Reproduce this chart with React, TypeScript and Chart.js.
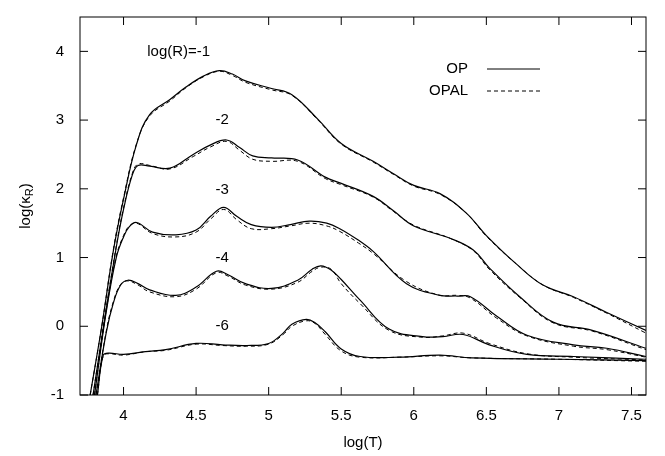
import Chart from 'chart.js/auto';
import { useEffect, useRef } from 'react';

const xTicks = [4, 4.5, 5, 5.5, 6, 6.5, 7, 7.5];
const yTicks = [-1, 0, 1, 2, 3, 4];

const opR1 = [[3.77,-1],[3.85,0],[3.93,1.1],[4.0,1.85],[4.09,2.65],[4.18,3.08],[4.32,3.3],[4.43,3.48],[4.55,3.64],[4.66,3.72],[4.75,3.67],[4.84,3.57],[5.02,3.46],[5.16,3.37],[5.34,3.01],[5.5,2.66],[5.72,2.4],[5.86,2.22],[6.0,2.05],[6.18,1.93],[6.36,1.65],[6.5,1.32],[6.71,0.9],[6.89,0.6],[7.1,0.43],[7.33,0.2],[7.6,-0.06]];
const opalR1 = [[3.77,-1],[3.85,0],[3.93,1.12],[4.0,1.87],[4.09,2.66],[4.18,3.06],[4.32,3.28],[4.43,3.47],[4.55,3.63],[4.66,3.71],[4.75,3.65],[4.84,3.55],[5.02,3.44],[5.16,3.36],[5.34,3.0],[5.5,2.65],[5.72,2.39],[5.86,2.21],[6.0,2.04],[6.18,1.92],[6.36,1.65],[6.5,1.31],[6.71,0.9],[6.89,0.6],[7.1,0.42],[7.33,0.19],[7.6,-0.1]];

const opR2 = [[3.79,-1],[3.87,0.1],[3.95,1.15],[4.0,1.7],[4.06,2.2],[4.1,2.34],[4.18,2.33],[4.32,2.3],[4.48,2.5],[4.6,2.64],[4.71,2.71],[4.8,2.6],[4.89,2.48],[5.02,2.45],[5.2,2.42],[5.39,2.17],[5.5,2.08],[5.72,1.89],[5.86,1.68],[6.0,1.46],[6.25,1.28],[6.41,1.11],[6.52,0.85],[6.73,0.43],[6.96,0.06],[7.23,-0.06],[7.6,-0.32]];
const opalR2 = [[3.79,-1],[3.87,0.12],[3.95,1.17],[4.0,1.72],[4.06,2.22],[4.1,2.36],[4.18,2.34],[4.32,2.29],[4.48,2.47],[4.6,2.61],[4.71,2.69],[4.8,2.56],[4.89,2.43],[5.02,2.4],[5.2,2.4],[5.39,2.15],[5.5,2.06],[5.72,1.88],[5.86,1.67],[6.0,1.47],[6.25,1.28],[6.41,1.1],[6.52,0.83],[6.73,0.42],[6.96,0.05],[7.23,-0.07],[7.6,-0.34]];

const opR3 = [[3.8,-1],[3.88,0.2],[3.95,1.0],[4.0,1.3],[4.04,1.45],[4.09,1.51],[4.2,1.37],[4.36,1.33],[4.5,1.4],[4.6,1.6],[4.69,1.73],[4.78,1.6],[4.88,1.48],[5.02,1.44],[5.15,1.48],[5.28,1.53],[5.4,1.5],[5.49,1.42],[5.62,1.25],[5.72,1.09],[5.95,0.62],[6.18,0.45],[6.3,0.44],[6.39,0.43],[6.57,0.15],[6.78,-0.13],[7.1,-0.27],[7.33,-0.32],[7.6,-0.44]];
const opalR3 = [[3.8,-1],[3.88,0.22],[3.95,1.02],[4.0,1.32],[4.04,1.46],[4.09,1.5],[4.2,1.35],[4.36,1.3],[4.5,1.37],[4.6,1.56],[4.69,1.7],[4.78,1.55],[4.88,1.42],[5.02,1.42],[5.15,1.46],[5.28,1.5],[5.4,1.46],[5.49,1.38],[5.62,1.21],[5.72,1.06],[5.95,0.65],[6.18,0.45],[6.3,0.45],[6.39,0.41],[6.57,0.12],[6.78,-0.14],[7.1,-0.29],[7.33,-0.34],[7.6,-0.45]];

const opR4 = [[3.81,-1],[3.88,-0.1],[3.93,0.34],[3.98,0.6],[4.03,0.67],[4.1,0.62],[4.18,0.53],[4.36,0.45],[4.5,0.57],[4.64,0.8],[4.72,0.75],[4.84,0.62],[5.02,0.55],[5.2,0.67],[5.3,0.83],[5.36,0.88],[5.43,0.82],[5.5,0.68],[5.63,0.38],[5.83,-0.04],[6.06,-0.15],[6.2,-0.15],[6.34,-0.12],[6.52,-0.27],[6.78,-0.41],[7.1,-0.44],[7.6,-0.48]];
const opalR4 = [[3.81,-1],[3.88,-0.08],[3.93,0.36],[3.98,0.61],[4.03,0.66],[4.1,0.6],[4.18,0.5],[4.36,0.43],[4.5,0.54],[4.64,0.78],[4.72,0.73],[4.84,0.6],[5.02,0.54],[5.2,0.64],[5.3,0.8],[5.36,0.86],[5.43,0.83],[5.5,0.62],[5.63,0.33],[5.83,-0.06],[6.06,-0.16],[6.2,-0.14],[6.34,-0.1],[6.52,-0.25],[6.78,-0.4],[7.1,-0.45],[7.6,-0.49]];

const opR6 = [[3.82,-1],[3.86,-0.42],[3.9,-0.39],[4.0,-0.41],[4.15,-0.37],[4.29,-0.34],[4.5,-0.25],[4.68,-0.27],[4.85,-0.28],[5.0,-0.25],[5.1,-0.1],[5.16,0.03],[5.26,0.1],[5.32,0.05],[5.39,-0.08],[5.5,-0.33],[5.63,-0.44],[5.9,-0.45],[6.18,-0.42],[6.4,-0.46],[7.0,-0.48],[7.6,-0.5]];
const opalR6 = [[3.82,-1],[3.86,-0.43],[3.9,-0.4],[4.0,-0.42],[4.15,-0.37],[4.29,-0.35],[4.5,-0.26],[4.68,-0.28],[4.85,-0.29],[5.0,-0.26],[5.1,-0.12],[5.16,0.0],[5.26,0.08],[5.32,0.04],[5.39,-0.12],[5.5,-0.36],[5.63,-0.45],[5.9,-0.45],[6.18,-0.43],[6.4,-0.46],[7.0,-0.48],[7.6,-0.51]];

const curveLabels = [['log(R)=-1', 4.38, 4.0], ['-2', 4.68, 3.0], ['-3', 4.68, 1.98], ['-4', 4.68, 1.0], ['-6', 4.68, 0.0]];

const FONT = '"Liberation Sans", Arial, sans-serif';

const toPts = (a: number[][]) => a.map(([x, y]) => ({ x, y }));

export default function App() {
  const ref = useRef<HTMLCanvasElement | null>(null);
  useEffect(() => {
    if (!ref.current) return;
    const sets: any[] = [];
    [opR1, opR2, opR3, opR4, opR6].forEach((s) => sets.push({ data: toPts(s), borderColor: '#000', borderWidth: 1.2, pointRadius: 0, tension: 0.4, fill: false }));
    [opalR1, opalR2, opalR3, opalR4, opalR6].forEach((s) => sets.push({ data: toPts(s), borderColor: '#000', borderWidth: 1, borderDash: [4, 3], pointRadius: 0, tension: 0.4, fill: false }));

    const deco = {
      id: 'deco',
      afterDraw(c: any) {
        const ctx = c.ctx; const a = c.chartArea; const xs = c.scales.x; const ys = c.scales.y;
        ctx.save();
        ctx.strokeStyle = '#000'; ctx.lineWidth = 1;
        ctx.strokeRect(a.left, a.top, a.right - a.left, a.bottom - a.top);
        ctx.beginPath();
        xTicks.forEach((t) => { const p = xs.getPixelForValue(t); ctx.moveTo(p, a.bottom); ctx.lineTo(p, a.bottom - 8); ctx.moveTo(p, a.top); ctx.lineTo(p, a.top + 8); });
        yTicks.forEach((t) => { const p = ys.getPixelForValue(t); ctx.moveTo(a.left, p); ctx.lineTo(a.left + 8, p); ctx.moveTo(a.right, p); ctx.lineTo(a.right - 8, p); });
        ctx.stroke();
        ctx.fillStyle = '#000';
        ctx.font = '15px ' + FONT;
        ctx.textAlign = 'center'; ctx.textBaseline = 'middle';
        curveLabels.forEach(([t, x, y]) => ctx.fillText(t as string, xs.getPixelForValue(x as number), ys.getPixelForValue(y as number)));
        // legend
        ctx.textAlign = 'right';
        ctx.fillText('OP', 468, 69);
        ctx.fillText('OPAL', 468, 91);
        ctx.beginPath(); ctx.moveTo(487, 69); ctx.lineTo(540, 69); ctx.stroke();
        ctx.setLineDash([4, 3]); ctx.beginPath(); ctx.moveTo(487, 91); ctx.lineTo(540, 91); ctx.stroke(); ctx.setLineDash([]);
        // y title
        ctx.translate(26, (a.top + a.bottom) / 2);
        ctx.rotate(-Math.PI / 2);
        ctx.textAlign = 'left';
        ctx.font = '15px ' + FONT;
        const w1 = ctx.measureText('log(κ').width;
        ctx.font = '11px ' + FONT;
        const w2 = ctx.measureText('R').width;
        ctx.font = '15px ' + FONT;
        const w3 = ctx.measureText(')').width;
        let x0 = -(w1 + w2 + w3) / 2;
        ctx.fillText('log(κ', x0, 0); x0 += w1;
        ctx.font = '11px ' + FONT; ctx.fillText('R', x0, 4); x0 += w2;
        ctx.font = '15px ' + FONT; ctx.fillText(')', x0, 0);
        ctx.restore();
      },
    };

    const chart = new Chart(ref.current, {
      type: 'line',
      data: { datasets: sets },
      options: {
        animation: false,
        responsive: false,
        layout: { padding: { top: 4, right: 19, left: 0, bottom: 0 } },
        plugins: { legend: { display: false }, tooltip: { enabled: false } },
        scales: {
          x: {
            type: 'linear', min: 3.7, max: 7.6,
            grid: { display: false }, border: { display: false },
            afterBuildTicks: (s: any) => { s.ticks = xTicks.map((v) => ({ value: v })); },
            afterFit: (s: any) => { s.height = 61; },
            ticks: { color: '#000', font: { family: FONT, size: 15 }, padding: 4, maxRotation: 0, callback: (v: any) => String(v) },
            title: { display: true, text: 'log(T)', color: '#000', font: { family: FONT, size: 15 }, padding: { top: 2 } },
          },
          y: {
            min: -1, max: 4.5,
            grid: { display: false }, border: { display: false },
            afterBuildTicks: (s: any) => { s.ticks = yTicks.map((v) => ({ value: v })); },
            afterFit: (s: any) => { s.width = 80; },
            ticks: { color: '#000', font: { family: FONT, size: 15 }, padding: 8, callback: (v: any) => String(v) },
          },
        },
      },
      plugins: [deco],
    });
    return () => chart.destroy();
  }, []);

  return (
    <div style={{ position: 'absolute', left: 0, top: 0, width: 665, height: 456, background: '#fff' }}>
      <canvas ref={ref} width={665} height={456}></canvas>
    </div>
  );
}
